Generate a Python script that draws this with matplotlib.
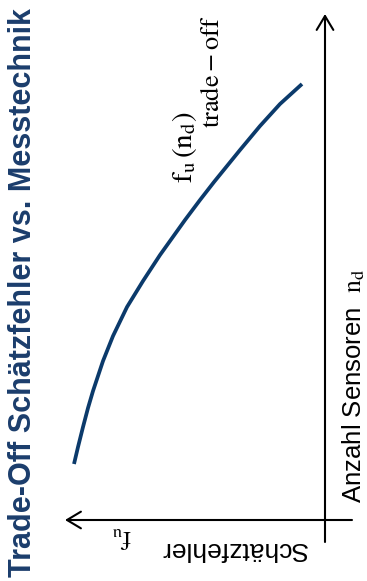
import matplotlib
matplotlib.use("Agg")
import matplotlib.pyplot as plt

plt.rcParams["font.family"] = ["Liberation Sans", "DejaVu Sans"]
plt.rcParams["mathtext.fontset"] = "stix"

# Trade-off curve: estimation error f_u over number of sensors n_d
n_sensors = [1.12, 1.46, 1.86, 2.24, 2.58, 3.18, 3.68, 4.26, 4.78, 5.30,
             5.58, 6.00, 6.40, 6.76, 7.08, 7.40, 7.88, 8.32, 8.72]
f_error = [5.02, 4.94, 4.84, 4.74, 4.64, 4.44, 4.24, 3.96, 3.64, 3.30,
           3.10, 2.80, 2.50, 2.22, 1.96, 1.70, 1.30, 0.90, 0.46]

title = "Trade-Off Schätzfehler vs. Messtechnik"
x_label = "Anzahl Sensoren  $\\mathrm{n_d}$"
y_label = "Schätzfehler"
y_symbol = "$\\mathrm{f_u}$"
curve_label_1 = "$\\mathrm{f}_\\mathrm{u}\\,(\\mathrm{n}_\\mathrm{d})$"
curve_label_2 = "$\\mathrm{trade} - \\mathrm{off}$"

W, H = 367, 581
fig = plt.figure(figsize=(W / 100, H / 100), dpi=100)
ax = fig.add_axes([0, 0, 1, 1])
# error axis points to the left, sensor axis points up
ax.set_xlim(6.5, -0.84)
ax.set_ylim(-1.22, 10.4)
ax.axis("off")

blue = "#0b3a6b"
arrow = dict(arrowstyle="->,head_length=1.0,head_width=0.6", lw=1.5,
             color="black", shrinkA=0, shrinkB=0, mutation_scale=10)
ax.annotate("", xy=(0, 10.12), xytext=(0, -0.44), arrowprops=arrow)
ax.annotate("", xy=(5.2, 0), xytext=(-0.54, 0), arrowprops=arrow)

ax.plot(f_error, n_sensors, color=blue, lw=2.7, solid_capstyle="butt",
        solid_joinstyle="round")


def px(x, y):
    return x / W, 1 - y / H


fig.text(*px(23, 293), title, rotation=90, ha="center", va="center",
         fontsize=22, fontweight="bold", color="#1b3d6c")
fig.text(*px(361, 503), x_label, rotation=90, rotation_mode="anchor",
         ha="left", va="baseline", fontsize=18.5)
fig.text(*px(307, 542), y_label, rotation=180, rotation_mode="anchor",
         ha="left", va="baseline", fontsize=19)
fig.text(*px(132, 530), y_symbol, rotation=180, rotation_mode="anchor",
         ha="left", va="baseline", fontsize=19)
fig.text(*px(192, 183), curve_label_1, rotation=90, rotation_mode="anchor",
         ha="left", va="baseline", fontsize=21)
fig.text(*px(219, 128), curve_label_2, rotation=90, rotation_mode="anchor",
         ha="left", va="baseline", fontsize=19)

fig.savefig("out.png", dpi=100)
